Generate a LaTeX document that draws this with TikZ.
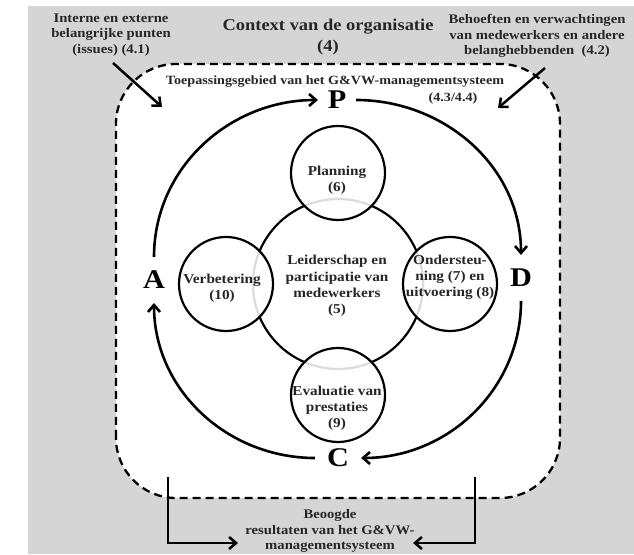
\documentclass[tikz,border=0pt]{standalone}
\usepackage{fontspec}
\setmainfont{Liberation Serif}[FakeStretch=1.12]
\usetikzlibrary{arrows.meta}
\definecolor{bggray}{HTML}{D5D5D5}
\definecolor{txt}{HTML}{262626}
\tikzset{
  loop/.style={line width=2.6pt,-{Straight Barb[length=7pt,width=12pt]}},
  outerarrow/.style={line width=2.5pt,-{Straight Barb[length=7pt,width=12pt]}},
  letter/.style={circle,inner sep=0pt,outer sep=0pt,minimum size=46pt,font=\fontsize{27}{27}\selectfont\bfseries,text=black},
  topic/.style={circle,draw=black,line width=2.2pt,minimum size=94pt,inner sep=0pt,fill=white,fill opacity=0.86},
  lbl/.style={align=center,font=\fontsize{13.6}{16.2}\selectfont\bfseries,text=txt,inner sep=0pt},
  corner/.style={align=center,font=\fontsize{13.1}{15.5}\selectfont\bfseries,text=txt,inner sep=0pt},
}
\begin{document}
\begin{tikzpicture}[x=1pt,y=1pt]
\useasboundingbox (0,0) rectangle (634,554);
\fill[bggray] (28,0) rectangle (634,548);
% scope boundary
\draw[line width=2.3pt,dash pattern=on 8pt off 5pt,fill=white,rounded corners=60pt] (116,56) rectangle (560,490);

% top texts
\node[corner,font=\fontsize{16.5}{21}\selectfont\bfseries] (ctx) at (328,517) {Context van de organisatie\\(4)};
\node[corner] (issues) at (111,519) {Interne en externe\\belangrijke punten\\(issues) (4.1)};
\node[corner] (needs) at (537,518) {Behoeften en verwachtingen\\van medewerkers en andere\\belanghebbenden\ \ (4.2)};
\node[lbl,font=\fontsize{12.6}{16}\selectfont\bfseries] (scope) at (335,472) {Toepassingsgebied van het G\&VW-managementsysteem};
\node[lbl,font=\fontsize{12.6}{16}\selectfont\bfseries] (scopenr) at (453,456) {(4.3/4.4)};

\coordinate (issuesfrom) at (113,491);
\coordinate (issuesto) at (162,447);
\coordinate (needsfrom) at (545,486);
\coordinate (needsto) at (498,446);
\draw[outerarrow] (issuesfrom) -- (issuesto);
\draw[outerarrow] (needsfrom) -- (needsto);

% central and topic circles
\node[circle,draw=black,line width=2.2pt,minimum size=170pt,inner sep=0pt] (lead) at (338,270) {};
\node[topic] (plan) at (338,381) {};
\node[topic] (eval) at (338,159) {};
\node[topic] (impr) at (226,270) {};
\node[topic] (supp) at (450,270) {};

\node[lbl] (leadt) at (337,268) {Leiderschap en\\participatie van\\medewerkers\\(5)};
\node[lbl] (plant) at (337,374) {Planning\\(6)};
\node[lbl] (imprt) at (222,265.5) {Verbetering\\(10)};
\node[lbl] (suppt) at (450,276.5) {Ondersteu-\\ning (7) en\\uitvoering (8)};
\node[lbl] (evalt) at (337,145.5) {Evaluatie van\\prestaties\\(9)};

% PDCA letters
\node[letter,minimum size=38pt] (P) at (337,454) {P};
\node[letter] (D) at (521,276) {D};
\node[letter] (C) at (338,96) {C};
\node[letter] (A) at (154,274) {A};

\draw[loop] (A) to[out=90,in=180] (P);
\draw[loop] (P) to[out=0,in=90] (D);
\draw[loop] (D) to[out=-90,in=0] (C);
\draw[loop] (C) to[out=180,in=-90] (A);

% intended results
\node[corner] (res) at (330,23) {Beoogde\\resultaten van het G\&VW-\\managementsysteem};
\coordinate (resl) at (168,77);
\coordinate (resr) at (475,77);
\coordinate (reslto) at (238,11);
\coordinate (resrto) at (413,11);
\draw[outerarrow] (resl) |- (reslto);
\draw[outerarrow] (resr) |- (resrto);
\end{tikzpicture}
\end{document}
